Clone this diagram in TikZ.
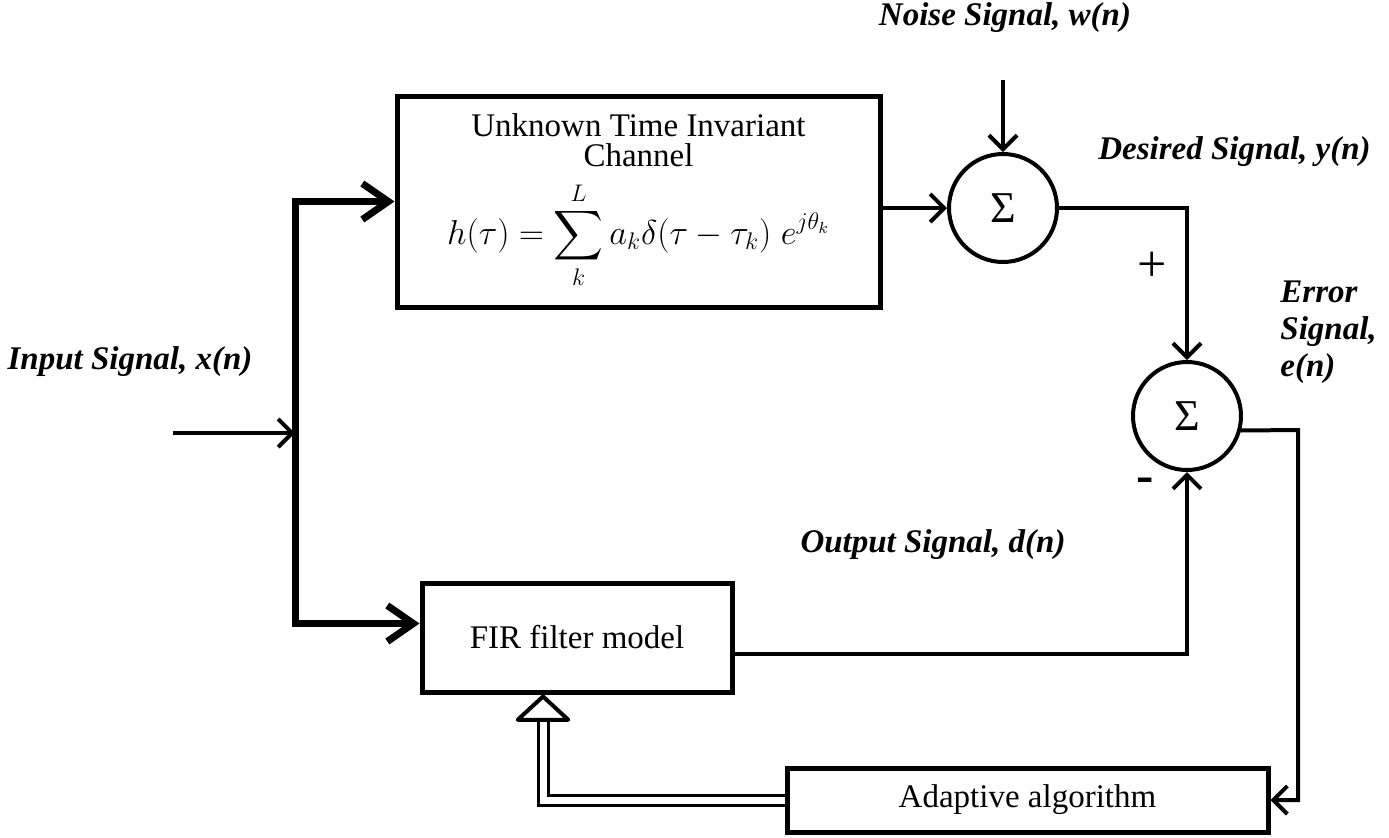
\documentclass[tikz,border=0pt]{standalone}
\usepackage{amsmath}
\usepackage{fontspec}
\setmainfont{Liberation Serif}
\usetikzlibrary{arrows.meta}
\tikzset{
    txt/.style={font=\fontsize{16.5}{19}\selectfont},
    lbl/.style={font=\fontsize{16.5}{18.5}\selectfont\bfseries\itshape, align=left, inner sep=0pt},
    block/.style={draw, line width=2.5pt, align=center, txt},
    sumnode/.style={draw, circle, line width=2pt, minimum size=54pt, inner sep=0pt,
        font=\fontsize{22}{24}\selectfont},
    wire/.style={line width=2pt},
    sig/.style={wire, -{Straight Barb[length=7pt,width=14pt]}},
    bus/.style={line width=3.5pt, -{Straight Barb[length=13pt,width=18pt]},
        preaction={draw=gray!60, transform canvas={shift={(1pt,-1pt)}}}},
    hollow/.style={line width=1.5pt, double, double distance=3.5pt},
    opentip/.style={line width=2pt, -{Triangle[open,length=14pt,width=30pt,round]}},
}
\begin{document}
\begin{tikzpicture}[x=0.5pt, y=-0.5pt]
    \useasboundingbox (0,0) rectangle (1389,837);
    \node[block, minimum width=241.5pt, minimum height=105.5pt] (chan) at (638.5,201.5)
        {Unknown Time Invariant\\[-4pt]Channel\\[6pt]
        $\displaystyle h(\tau)=\sum_{k}^{L} a_k\delta(\tau-\tau_k)\;e^{j\theta_k}$};
    \node[block, minimum width=155pt, minimum height=54.5pt] (fir) at (577,637.5) {FIR filter model};
    \node[block, minimum width=240.5pt, minimum height=32pt] (adapt) at (1027.5,800) {Adaptive algorithm};
    \node[sumnode] (sum1) at (1003,208) {Σ};
    \node[sumnode] (sum2) at (1187,416) {Σ};
    \coordinate (in) at (173,433);
    \coordinate (split) at (295,433);
    \coordinate (noise) at (1003,80);
    \coordinate (eturn) at (1298,430);
    \coordinate (tipbase) at (543,722);
    % labels
    \node[lbl] (noiselbl) at (1005,18) {Noise Signal, w(n)};
    \node[lbl, anchor=west] (deslbl) at (1098,152) {Desired Signal, y(n)};
    \node[lbl, anchor=north west] (errlbl) at (1280,280) {Error\\Signal,\\e(n)};
    \node[lbl] (outlbl) at (933,545) {Output Signal, d(n)};
    \node[lbl] (inlbl) at (130,362) {Input Signal, x(n)};
    \node[font=\fontsize{26}{28}\selectfont] (plus) at (1152,267) {+};
    \node[font=\fontsize{26}{28}\selectfont\bfseries] (minus) at (1145,485) {-};
    % connectors
    \draw[sig] (in) -- (split);
    \draw[bus] (split) |- (chan.west);
    \draw[bus] (split) |- ([yshift=7pt]fir.west);
    \draw[sig] (chan.east |- sum1) -- (sum1);
    \draw[sig] (noise) -- (sum1);
    \draw[sig] (sum1) -| (sum2);
    \draw[sig] ([yshift=-8pt]fir.east) -| (sum2);
    \draw[sig] (sum2.-15) -- (eturn) |- (adapt.east);
    \draw[hollow] (adapt.west) -| (tipbase);
    \draw[opentip] (tipbase) -- (fir.south -| tipbase);
\end{tikzpicture}
\end{document}
